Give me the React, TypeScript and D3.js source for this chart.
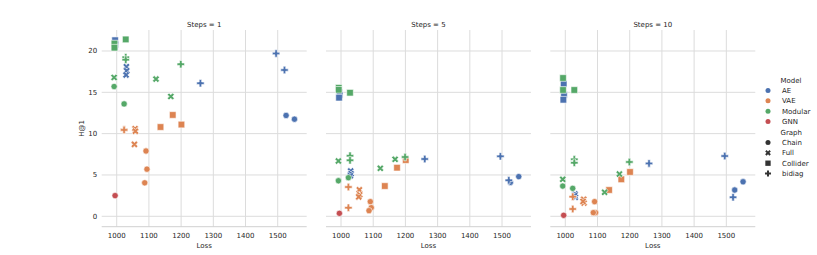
import React from 'react';
import * as d3 from 'd3';

const models = ['AE', 'VAE', 'Modular', 'GNN'];
const graphs = ['Chain', 'Full', 'Collider', 'bidiag'];
const steps = [1, 5, 10];
const xTicks = [1000, 1100, 1200, 1300, 1400, 1500];
const yTicks = [0, 5, 10, 15, 20];

// AE
const aeLoss = [1526, 1552, 1030, 1031, 1029, 995, 996, 994, 1260, 1495, 1521];
const aeGraph = ['Chain', 'Chain', 'Full', 'Full', 'Full', 'Collider', 'Collider', 'Collider', 'bidiag', 'bidiag', 'bidiag'];
const aeSteps1 = [12.2, 11.75, 18.1, 17.6, 17.1, 21.3, 20.8, 20.5, 16.1, 19.7, 17.7];
const aeSteps5 = [4.1, 4.8, 5.48, 5.15, 4.9, 15.0, 14.7, 14.35, 6.93, 7.25, 4.35];
const aeSteps10 = [3.18, 4.18, 2.7, 2.3, 2.5, 16.04, 14.7, 14.1, 6.4, 7.29, 2.3];

// VAE
const vaeLoss = [1091, 1094, 1087, 1057, 1058, 1055, 1136, 1174, 1201, 1023, 1023];
const vaeGraph = ['Chain', 'Chain', 'Chain', 'Full', 'Full', 'Full', 'Collider', 'Collider', 'Collider', 'bidiag', 'bidiag'];
const vaeSteps1 = [7.9, 5.7, 4.05, 10.6, 10.3, 8.7, 10.8, 12.26, 11.1, 10.5, 10.45];
const vaeSteps5 = [1.77, 1.04, 0.68, 3.2, 2.6, 2.35, 3.66, 5.88, 6.8, 3.54, 1.04];
const vaeSteps10 = [1.77, 0.44, 0.44, 2.05, 1.6, 1.8, 3.18, 4.47, 5.36, 2.37, 0.88];

// Modular
const modLoss = [992, 1023, 992, 1122, 1168, 993, 993, 1028, 1028, 1028, 1199];
const modGraph = ['Chain', 'Chain', 'Full', 'Full', 'Full', 'Collider', 'Collider', 'Collider', 'bidiag', 'bidiag', 'bidiag'];
const modSteps1 = [15.7, 13.6, 16.8, 16.6, 14.5, 20.9, 20.4, 21.4, 19.25, 18.95, 18.4];
const modSteps5 = [4.3, 4.67, 6.69, 5.8, 6.89, 15.55, 15.3, 14.95, 7.33, 6.77, 7.17];
const modSteps10 = [3.66, 3.38, 4.47, 2.9, 5.11, 16.73, 15.28, 15.28, 6.89, 6.48, 6.57];

// GNN
const gnnLoss = [995];
const gnnGraph = ['Chain'];
const gnnSteps1 = [2.5];
const gnnSteps5 = [0.36];
const gnnSteps10 = [0.12];

const palette = ['#4C72B0', '#DD8452', '#55A868', '#C44E52'];

interface Pt { model: string; graph: string; loss: number; h1: number; }

const modelData = [
    { model: 'AE', loss: aeLoss, graph: aeGraph, h: [aeSteps1, aeSteps5, aeSteps10] },
    { model: 'VAE', loss: vaeLoss, graph: vaeGraph, h: [vaeSteps1, vaeSteps5, vaeSteps10] },
    { model: 'Modular', loss: modLoss, graph: modGraph, h: [modSteps1, modSteps5, modSteps10] },
    { model: 'GNN', loss: gnnLoss, graph: gnnGraph, h: [gnnSteps1, gnnSteps5, gnnSteps10] },
];

const pointsFor = (si: number): Pt[] => {
    const out: Pt[] = [];
    modelData.forEach(m => {
        m.loss.forEach((l, i) => out.push({ model: m.model, graph: m.graph[i], loss: l, h1: m.h[si][i] }));
    });
    return out;
};

const color = d3.scaleOrdinal<string, string>().domain(models).range(palette);

const symbolPath = (graph: string, scale = 1) => {
    if (graph === 'Chain') return d3.symbol(d3.symbolCircle, 31 * scale)() || '';
    if (graph === 'Collider') return d3.symbol(d3.symbolSquare, 44 * scale)() || '';
    return d3.symbol(d3.symbolCross, 31 * scale)() || '';
};

const W = 817, H = 255;
const panelLeft = 101.7, panelW = 205, panelStep = 224.3;
const top = 30, bottom = 226.7;
const textColor = '#262626';
const font = 'DejaVu Sans, sans-serif';

const App: React.FC = () => {
    const x = d3.scaleLinear().domain([953.4, 1590]).range([0, panelW]);
    const y = d3.scaleLinear().domain([-1.26, 22.54]).range([bottom, top]);

    return (
        <svg width={W} height={H} style={{ position: 'absolute', left: 0, top: 0, background: '#fff' }} fontFamily={font}>
            {steps.map((s, si) => {
                const ox = panelLeft + si * panelStep;
                const pts = pointsFor(si);
                return (
                    <g key={s} transform={`translate(${ox},0)`}>
                        {yTicks.map(t => (
                            <line key={'gy' + t} x1={0} x2={panelW} y1={y(t)} y2={y(t)} stroke="#dcdcdc" strokeWidth={1} />
                        ))}
                        {xTicks.map(t => (
                            <line key={'gx' + t} x1={x(t)} x2={x(t)} y1={top} y2={bottom} stroke="#dcdcdc" strokeWidth={1} />
                        ))}
                        <line x1={0} x2={panelW} y1={bottom} y2={bottom} stroke="#d0d0d0" strokeWidth={1} />
                        {xTicks.map(t => (
                            <text key={'tx' + t} x={x(t)} y={237.5} fontSize={7} textAnchor="middle" fill={textColor}>{t}</text>
                        ))}
                        {si === 0 && yTicks.map(t => (
                            <text key={'ty' + t} x={-4.5} y={y(t) + 2.5} fontSize={7} textAnchor="end" fill={textColor}>{t}</text>
                        ))}
                        <text x={panelW / 2} y={26.5} fontSize={7} textAnchor="middle" fill={textColor}>{`Steps = ${s}`}</text>
                        <text x={panelW / 2} y={247.5} fontSize={7} textAnchor="middle" fill={textColor}>Loss</text>
                        {si === 0 && (
                            <text transform={`translate(-17.5,${(top + bottom) / 2}) rotate(-90)`} fontSize={7} textAnchor="middle" fill={textColor}>H@1</text>
                        )}
                        {pts.map((p, i) => (
                            <path
                                key={i}
                                d={symbolPath(p.graph)}
                                transform={`translate(${x(p.loss)},${y(p.h1)})${p.graph === 'Full' ? ' rotate(45)' : ''}`}
                                fill={color(p.model)}
                                stroke="#fff"
                                strokeWidth={0.6}
                            />
                        ))}
                    </g>
                );
            })}
            <g transform="translate(768,0)" fontSize={7}>
                <text x={12.5} y={82.5} fill={textColor}>Model</text>
                {models.map((m, i) => (
                    <g key={m} transform={`translate(0,${90.5 + i * 10.35})`}>
                        <circle r={2.5} fill={color(m)} />
                        <text x={14} y={2.5} fill={textColor}>{m}</text>
                    </g>
                ))}
                <text x={12.5} y={134.5} fill={textColor}>Graph</text>
                {graphs.map((g, i) => (
                    <g key={g} transform={`translate(0,${142.5 + i * 10.35})`}>
                        <path d={symbolPath(g, 0.65)} transform={g === 'Full' ? 'rotate(45)' : ''} fill="#333" />
                        <text x={14} y={2.5} fill={textColor}>{g}</text>
                    </g>
                ))}
            </g>
        </svg>
    );
};

export default App;
